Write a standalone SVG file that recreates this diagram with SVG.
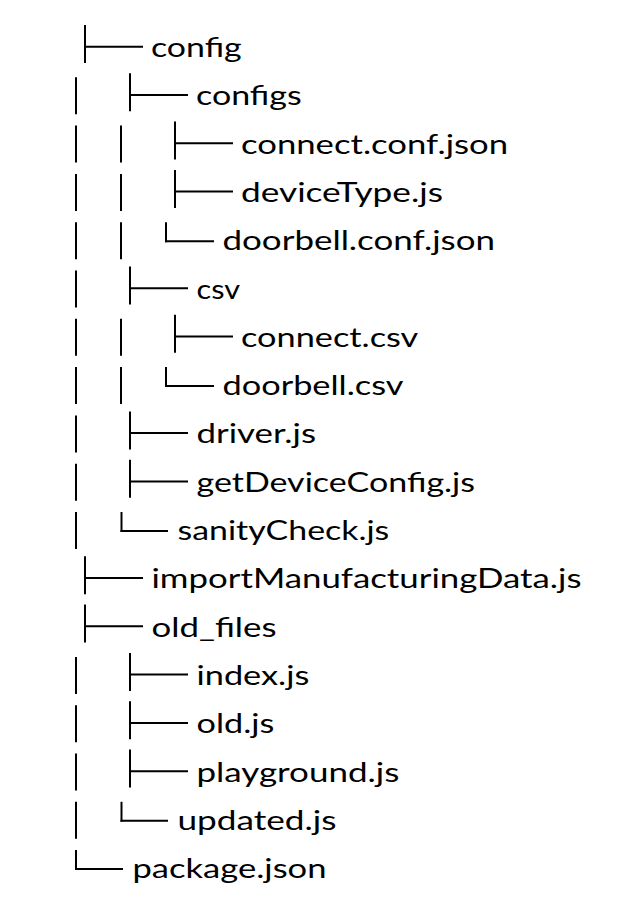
<svg xmlns="http://www.w3.org/2000/svg" width="644" height="908" viewBox="0 0 644 908">
<style>
text{font-family:Lato,"Open Sans","Liberation Sans",sans-serif;font-size:27px;fill:#000}
.c line{stroke:#000;stroke-width:2;stroke-linecap:butt}
</style>
<rect width="644" height="908" fill="#fff"/>
<g class="c" id="connectors">
<line x1="85" y1="25" x2="85" y2="63"/><line x1="85" y1="46.7" x2="143" y2="46.7"/>
<line x1="76" y1="77.3" x2="76" y2="114.3"/>
<line x1="130" y1="73.3" x2="130" y2="111.3"/><line x1="130" y1="95" x2="188" y2="95"/>
<line x1="76" y1="125.6" x2="76" y2="162.6"/><line x1="121" y1="125.6" x2="121" y2="162.6"/>
<line x1="175" y1="121.6" x2="175" y2="159.6"/><line x1="175" y1="143.3" x2="233" y2="143.3"/>
<line x1="76" y1="173.9" x2="76" y2="210.9"/><line x1="121" y1="173.9" x2="121" y2="210.9"/>
<line x1="175" y1="169.9" x2="175" y2="207.9"/><line x1="175" y1="191.6" x2="233" y2="191.6"/>
<line x1="76" y1="222.2" x2="76" y2="259.2"/><line x1="121" y1="222.2" x2="121" y2="259.2"/>
<line x1="166" y1="222.2" x2="166" y2="242.2"/><line x1="165" y1="241.2" x2="214" y2="241.2"/>
<line x1="76" y1="270.5" x2="76" y2="307.5"/>
<line x1="130" y1="266.5" x2="130" y2="304.5"/><line x1="130" y1="288.2" x2="188" y2="288.2"/>
<line x1="76" y1="318.8" x2="76" y2="355.8"/><line x1="121" y1="318.8" x2="121" y2="355.8"/>
<line x1="175" y1="314.8" x2="175" y2="352.8"/><line x1="175" y1="336.5" x2="233" y2="336.5"/>
<line x1="76" y1="367.1" x2="76" y2="404.1"/><line x1="121" y1="367.1" x2="121" y2="404.1"/>
<line x1="166" y1="367.1" x2="166" y2="387.1"/><line x1="165" y1="386.1" x2="214" y2="386.1"/>
<line x1="76" y1="415.4" x2="76" y2="452.4"/>
<line x1="130" y1="411.4" x2="130" y2="449.4"/><line x1="130" y1="433.1" x2="188" y2="433.1"/>
<line x1="76" y1="463.7" x2="76" y2="500.7"/>
<line x1="130" y1="459.7" x2="130" y2="497.7"/><line x1="130" y1="481.4" x2="188" y2="481.4"/>
<line x1="76" y1="512" x2="76" y2="549"/>
<line x1="121.5" y1="512" x2="121.5" y2="532"/><line x1="120.5" y1="531" x2="168" y2="531"/>
<line x1="85" y1="556.3" x2="85" y2="594.3"/><line x1="85" y1="578" x2="143" y2="578"/>
<line x1="85" y1="604.6" x2="85" y2="642.6"/><line x1="85" y1="626.3" x2="143" y2="626.3"/>
<line x1="76" y1="656.9" x2="76" y2="693.9"/>
<line x1="130" y1="652.9" x2="130" y2="690.9"/><line x1="130" y1="674.6" x2="188" y2="674.6"/>
<line x1="76" y1="705.2" x2="76" y2="742.2"/>
<line x1="130" y1="701.2" x2="130" y2="739.2"/><line x1="130" y1="722.9" x2="188" y2="722.9"/>
<line x1="76" y1="753.5" x2="76" y2="790.5"/>
<line x1="130" y1="749.5" x2="130" y2="787.5"/><line x1="130" y1="771.2" x2="188" y2="771.2"/>
<line x1="76" y1="801.8" x2="76" y2="838.8"/>
<line x1="121.5" y1="801.8" x2="121.5" y2="821.8"/><line x1="120.5" y1="820.8" x2="168" y2="820.8"/>
<line x1="76" y1="850.1" x2="76" y2="870.1"/><line x1="75" y1="869.1" x2="123" y2="869.1"/>
</g>
<g id="n-config"><text x="151" y="57" textLength="90.7" lengthAdjust="spacingAndGlyphs">config</text></g>
<g id="n-configs"><text x="196" y="105.3" textLength="105.7" lengthAdjust="spacingAndGlyphs">configs</text></g>
<g id="n-connect-conf"><text x="241" y="153.6" textLength="267" lengthAdjust="spacingAndGlyphs">connect.conf.json</text></g>
<g id="n-deviceType"><text x="241" y="201.9" textLength="202" lengthAdjust="spacingAndGlyphs">deviceType.js</text></g>
<g id="n-doorbell-conf"><text x="222.5" y="250.2" textLength="272.5" lengthAdjust="spacingAndGlyphs">doorbell.conf.json</text></g>
<g id="n-csv"><text x="196.5" y="298.5" textLength="43.5" lengthAdjust="spacingAndGlyphs">csv</text></g>
<g id="n-connect-csv"><text x="241" y="346.8" textLength="177.3" lengthAdjust="spacingAndGlyphs">connect.csv</text></g>
<g id="n-doorbell-csv"><text x="222.5" y="395.1" textLength="181" lengthAdjust="spacingAndGlyphs">doorbell.csv</text></g>
<g id="n-driver"><text x="196.5" y="443.4" textLength="119.5" lengthAdjust="spacingAndGlyphs">driver.js</text></g>
<g id="n-getDeviceConfig"><text x="196.5" y="491.7" textLength="278.5" lengthAdjust="spacingAndGlyphs">getDeviceConfig.js</text></g>
<g id="n-sanityCheck"><text x="177.5" y="540" textLength="211.8" lengthAdjust="spacingAndGlyphs">sanityCheck.js</text></g>
<g id="n-import"><text x="151.5" y="588.3" textLength="430" lengthAdjust="spacingAndGlyphs">importManufacturingData.js</text></g>
<g id="n-old_files"><text x="151.5" y="636.6" textLength="125" lengthAdjust="spacingAndGlyphs">old_files</text></g>
<g id="n-index"><text x="196.5" y="684.9" textLength="112.8" lengthAdjust="spacingAndGlyphs">index.js</text></g>
<g id="n-old"><text x="196.5" y="733.2" textLength="77.8" lengthAdjust="spacingAndGlyphs">old.js</text></g>
<g id="n-playground"><text x="196.5" y="781.5" textLength="202.8" lengthAdjust="spacingAndGlyphs">playground.js</text></g>
<g id="n-updated"><text x="177.5" y="829.8" textLength="159" lengthAdjust="spacingAndGlyphs">updated.js</text></g>
<g id="n-package"><text x="132.5" y="878.1" textLength="194" lengthAdjust="spacingAndGlyphs">package.json</text></g>
</svg>
